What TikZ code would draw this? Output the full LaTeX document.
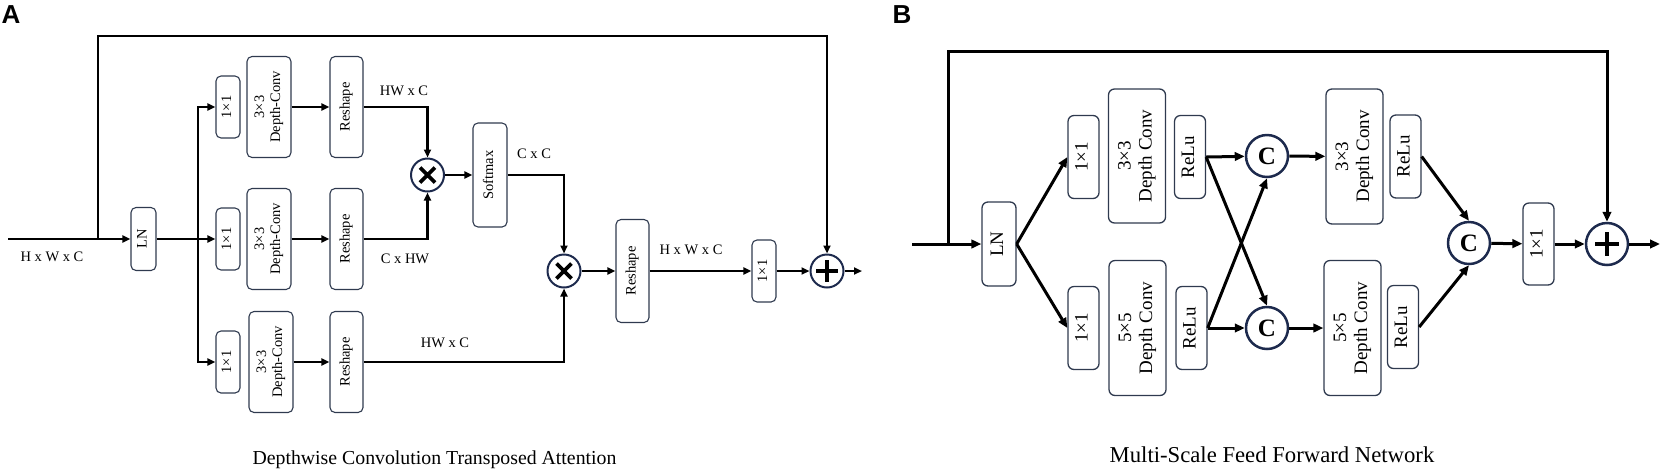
\documentclass[tikz,border=0pt]{standalone}
\usepackage{fontspec}
\setmainfont{Liberation Serif}
\newfontfamily\panelfont{Liberation Sans}
\usepackage{graphicx}
\usetikzlibrary{arrows.meta,calc}
\definecolor{navy}{HTML}{1D2A4D}
\definecolor{boxc}{HTML}{2F3A4F}
\newcommand{\rlab}[1]{\rotatebox{90}{\begin{tabular}{@{}c@{}}#1\end{tabular}}}
\tikzset{
  fa/.style={font=\fontsize{14.5}{16}\selectfont},
  fb/.style={font=\fontsize{19}{21}\selectfont},
  boxA/.style={draw=boxc, line width=1.1pt, rounded corners=5pt, inner sep=0pt, fa},
  boxB/.style={draw=boxc, line width=1.3pt, rounded corners=6pt, inner sep=0pt, fb},
  opA/.style={circle, draw=navy, line width=2pt, minimum size=33pt, inner sep=0pt},
  opB/.style={circle, draw=navy, line width=2.5pt, minimum size=42pt, inner sep=0pt, font=\fontsize{25}{25}\selectfont\bfseries},
  lineA/.style={line width=2.2pt},
  lineB/.style={line width=3pt},
  arrA/.style={lineA, -{Triangle[length=8pt,width=7pt]}},
  arrB/.style={lineB, -{Triangle[length=10pt,width=8.5pt]}},
  timesA/.style={path picture={
    \draw[black, line width=3.8pt] ($(path picture bounding box.center)+(-7.5,-7.5)$) -- ($(path picture bounding box.center)+(7.5,7.5)$)
      ($(path picture bounding box.center)+(-7.5,7.5)$) -- ($(path picture bounding box.center)+(7.5,-7.5)$);}},
  plusA/.style={path picture={
    \draw[black, line width=3.8pt] ($(path picture bounding box.center)+(-11,0)$) -- ($(path picture bounding box.center)+(11,0)$)
      ($(path picture bounding box.center)+(0,-11)$) -- ($(path picture bounding box.center)+(0,11)$);}},
  plusB/.style={path picture={
    \draw[black, line width=4.2pt] ($(path picture bounding box.center)+(-12,0)$) -- ($(path picture bounding box.center)+(12,0)$)
      ($(path picture bounding box.center)+(0,-12)$) -- ($(path picture bounding box.center)+(0,12)$);}},
}
\begin{document}
\begin{tikzpicture}[x=1pt,y=-1pt]
\useasboundingbox (0,0) rectangle (1667,475);
% ---------------- Panel A ----------------
\node[font=\panelfont\bfseries\fontsize{26}{26}\selectfont] (labA) at (11,15) {A};
\coordinate (inA) at (8,239);
\coordinate (brA) at (98,239);
\coordinate (topA) at (98,36);
\coordinate (spA) at (198,239);
\coordinate (outA) at (862,271);
\node[boxA, minimum width=25pt, minimum height=63pt] (lnA) at (143.5,239) {\rlab{LN}};
\node[boxA, minimum width=24pt, minimum height=62pt] (a1) at (228,107) {\rlab{1×1}};
\node[boxA, minimum width=44pt, minimum height=101pt] (d1) at (269,107) {\rlab{3×3\\Depth-Conv}};
\node[boxA, minimum width=33pt, minimum height=101pt] (r1) at (346.5,107) {\rlab{Reshape}};
\node[boxA, minimum width=24pt, minimum height=62pt] (a2) at (228,239) {\rlab{1×1}};
\node[boxA, minimum width=44pt, minimum height=101pt] (d2) at (269,239) {\rlab{3×3\\Depth-Conv}};
\node[boxA, minimum width=33pt, minimum height=101pt] (r2) at (346.5,239) {\rlab{Reshape}};
\node[boxA, minimum width=24pt, minimum height=62pt] (a3) at (228,362) {\rlab{1×1}};
\node[boxA, minimum width=44pt, minimum height=101pt] (d3) at (271,362) {\rlab{3×3\\Depth-Conv}};
\node[boxA, minimum width=33pt, minimum height=101pt] (r3) at (346.5,362) {\rlab{Reshape}};
\node[opA, timesA] (m1) at (427.5,175) {};
\node[boxA, minimum width=34pt, minimum height=104pt] (sm) at (490,175) {\rlab{Softmax}};
\node[opA, timesA] (m2) at (564,271) {};
\node[boxA, minimum width=33pt, minimum height=103pt] (r4) at (632.5,271) {\rlab{Reshape}};
\node[boxA, minimum width=24pt, minimum height=62pt] (a4) at (764,271) {\rlab{1×1}};
\node[opA, plusA] (pA) at (827,271) {};
\draw[lineA] (inA) -- (brA);
\draw[arrA] (brA) -- (lnA);
\draw[arrA] (brA) -- (topA) -| (pA.north);
\draw[arrA] (lnA) -- (a2);
\draw[arrA] (spA) |- (a1.west);
\draw[arrA] (spA) |- (a3.west);
\draw[arrA] (d1) -- (r1);
\draw[arrA] (d2) -- (r2);
\draw[arrA] (d3) -- (r3);
\draw[arrA] (r1.east) -| (m1.north);
\draw[arrA] (r2.east) -| (m1.south);
\draw[arrA] (m1) -- (sm);
\draw[arrA] (sm.east) -| (m2.north);
\draw[arrA] (r3.east) -| (m2.south);
\draw[arrA] (m2) -- (r4);
\draw[arrA] (r4) -- (a4);
\draw[arrA] (a4) -- (pA);
\draw[arrA] (pA) -- (outA);
\node[fa] (t1) at (52,257) {H x W x C};
\node[fa] (t2) at (404,91) {HW x C};
\node[fa] (t3) at (405,259) {C x HW};
\node[fa] (t4) at (534,154) {C x C};
\node[fa] (t5) at (445,343) {HW x C};
\node[fa] (t6) at (691,250) {H x W x C};
\node[font=\fontsize{19.8}{22}\selectfont] (capA) at (434.5,460) {Depthwise Convolution Transposed Attention};
% ---------------- Panel B ----------------
\node[font=\panelfont\bfseries\fontsize{26}{26}\selectfont] (labB) at (902,15) {B};
\coordinate (inB) at (912,244);
\coordinate (brB) at (948,244);
\coordinate (topB) at (948,51);
\coordinate (outB) at (1660,244);
\node[boxB, minimum width=34pt, minimum height=84pt] (lnB) at (999,244) {\rlab{LN}};
\node[boxB, minimum width=31pt, minimum height=83pt] (b1) at (1083.5,157) {\rlab{1×1}};
\node[boxB, minimum width=57pt, minimum height=134pt] (e1) at (1137,156) {\rlab{3×3\\Depth Conv}};
\node[boxB, minimum width=31pt, minimum height=83pt] (u1) at (1190,157) {\rlab{ReLu}};
\node[boxB, minimum width=31pt, minimum height=83pt] (b2) at (1083.5,328) {\rlab{1×1}};
\node[boxB, minimum width=57pt, minimum height=135pt] (e2) at (1137.5,328) {\rlab{5×5\\Depth Conv}};
\node[boxB, minimum width=31pt, minimum height=83pt] (u2) at (1191.5,328) {\rlab{ReLu}};
\node[opB] (c1) at (1267,156) {C};
\node[opB] (c2) at (1267,328) {C};
\node[boxB, minimum width=57pt, minimum height=135pt] (f1) at (1354.5,156.5) {\rlab{3×3\\Depth Conv}};
\node[boxB, minimum width=31pt, minimum height=83pt] (v1) at (1405.5,156.5) {\rlab{ReLu}};
\node[boxB, minimum width=57pt, minimum height=135pt] (f2) at (1352.5,328) {\rlab{5×5\\Depth Conv}};
\node[boxB, minimum width=31pt, minimum height=83pt] (v2) at (1403,327) {\rlab{ReLu}};
\node[opB] (c3) at (1469,243) {C};
\node[boxB, minimum width=31pt, minimum height=82pt] (b3) at (1538.5,244) {\rlab{1×1}};
\node[opB, plusB] (pB) at (1607,244) {};
\draw[lineB] (inB) -- (brB);
\draw[arrB] (brB) -- (lnB);
\draw[arrB] (brB) -- (topB) -| (pB.north);
\draw[arrB] (lnB.east) -- (b1.west);
\draw[arrB] (lnB.east) -- (b2.west);
\draw[arrB] (u1.east) -- (c1);
\draw[arrB] (u1.east) -- (c2.north);
\draw[arrB] (u2.east) -- (c2);
\draw[arrB] (u2.east) -- (c1.south);
\draw[arrB] (c1) -- (f1);
\draw[arrB] (c2) -- (f2);
\draw[arrB] (v1.east) -- (c3.north);
\draw[arrB] (v2.east) -- (c3.south);
\draw[arrB] (c3) -- (b3);
\draw[arrB] (b3) -- (pB);
\draw[arrB] (pB) -- (outB);
\node[font=\fontsize{22.7}{25}\selectfont] (capB) at (1272,455) {Multi-Scale Feed Forward Network};
\end{tikzpicture}
\end{document}
